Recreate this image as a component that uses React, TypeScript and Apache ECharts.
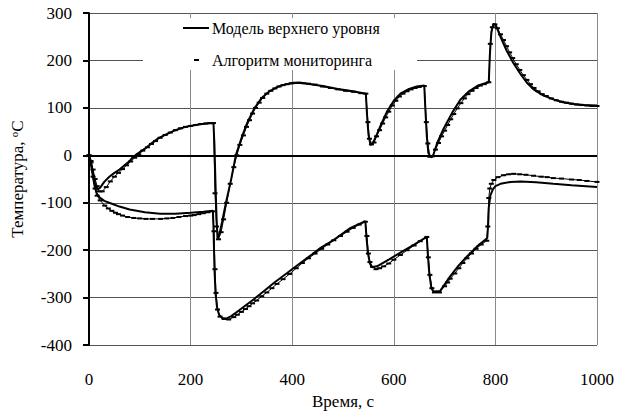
import React, { useEffect, useRef } from "react";
import * as echarts from "echarts";

const xTicks = [0, 200, 400, 600, 800, 1000];
const yTicks = [-400, -300, -200, -100, 0, 100, 200, 300];

const legendModel = "Модель верхнего уровня";
const legendAlgo = "Алгоритм мониторинга";
const xName = "Время, с";

// Model, upper branch [time s, temperature °C]
const modelUpper: number[][] = [
  [0, 0], [3, -10], [8, -40], [12, -60], [17, -72], [22, -68], [30, -56], [40, -45], [50, -37], [60, -30],
  [70, -21], [80, -12], [86, -4], [95, 3], [110, 14], [125, 27], [135, 35], [150, 43], [170, 53], [190, 60],
  [210, 64], [230, 67], [245, 68],
  [247, 20], [249, -60], [251, -130], [253, -175], [257, -165], [262, -140], [269, -103], [280, -50], [289, 0],
  [302, 42], [312, 70], [325, 98], [340, 121], [355, 135], [370, 144], [385, 149], [400, 152], [415, 153],
  [430, 151], [460, 146], [490, 140], [520, 135], [545, 130],
  [547, 90], [550, 45], [554, 22], [558, 24], [565, 40], [575, 65], [587, 93], [600, 115], [613, 130],
  [630, 140], [645, 145], [660, 147],
  [662, 100], [665, 40], [668, 5], [673, -4], [677, -2], [685, 25], [698, 56], [715, 90], [731, 117],
  [748, 135], [764, 146], [780, 152], [787, 154],
  [789, 210], [792, 260], [796, 277], [800, 276], [810, 250], [822, 221], [835, 195], [849, 172], [862, 153],
  [875, 139], [895, 126], [914, 118], [933, 112], [953, 108], [975, 106], [1000, 105],
];

// Model, lower branch
const modelLower: number[][] = [
  [0, 0], [3, -12], [7, -40], [11, -65], [15, -80], [20, -88], [30, -96], [45, -102], [60, -108], [80, -114],
  [110, -120], [140, -123], [170, -123], [200, -121], [225, -119], [244, -117],
  [245, -150], [247, -240], [249, -290], [252, -320], [256, -336], [262, -343], [270, -344], [280, -339],
  [295, -327], [310, -315], [325, -303], [341, -289], [365, -268], [390, -248], [416, -227], [440, -208],
  [456, -195], [482, -178], [515, -153], [544, -139],
  [546, -170], [549, -206], [553, -228], [557, -236], [567, -234], [590, -220], [613, -205], [640, -188],
  [665, -172],
  [667, -210], [670, -251], [674, -280], [678, -287], [691, -286], [711, -255], [727, -233], [744, -213],
  [763, -193], [780, -178], [784, -174],
  [786, -140], [787, -110], [790, -85], [795, -72], [800, -65], [810, -60], [830, -56], [850, -55],
  [880, -57], [914, -60], [950, -63], [1000, -67],
];

// Monitoring algorithm, upper branch
const algoUpper: number[][] = [
  [0, 0], [4, -12], [8, -30], [12, -50], [16, -65], [20, -76], [26, -76], [34, -67], [42, -55], [50, -45],
  [58, -37], [66, -29], [74, -21], [82, -13], [90, -5], [98, 2], [106, 10], [115, 17], [123, 24], [131, 30],
  [140, 37], [150, 43], [160, 48], [170, 53], [180, 57], [190, 60], [200, 62], [210, 64], [220, 66],
  [230, 67], [238, 68], [245, 68],
  [248, -80], [251, -150], [255, -177], [260, -162], [265, -135], [271, -100], [278, -60], [285, -25],
  [291, 0], [297, 22], [304, 42], [310, 60], [316, 74], [322, 88], [328, 100], [335, 111], [342, 121],
  [350, 130], [358, 136], [366, 141], [374, 145], [382, 148], [390, 150], [398, 152], [406, 153], [414, 153],
  [422, 152], [432, 151], [445, 149], [460, 145], [475, 142], [490, 139], [505, 136], [520, 134],
  [535, 131], [545, 130],
  [549, 70], [552, 35], [556, 23], [561, 27], [566, 40], [572, 53], [578, 67], [584, 80], [590, 92],
  [597, 105], [604, 115], [611, 124], [618, 130], [626, 135], [634, 139], [642, 142], [650, 144], [660, 146],
  [664, 70], [667, 25], [671, -3], [676, -2], [682, 12], [688, 26], [694, 40], [700, 52], [706, 64],
  [712, 76], [718, 87], [725, 99], [732, 110], [739, 120], [746, 129], [754, 136], [762, 142], [770, 147],
  [778, 150], [787, 154],
  [790, 235], [794, 270], [799, 276], [804, 268], [810, 255], [816, 243], [822, 230], [828, 217],
  [834, 205], [841, 192], [848, 180], [855, 169], [862, 159], [869, 150], [876, 142], [884, 135],
  [892, 129], [900, 125], [910, 120], [920, 116], [930, 113], [940, 111], [950, 109], [960, 107],
  [970, 106], [980, 105], [990, 104], [1000, 104],
];

// Monitoring algorithm, lower branch
const algoLower: number[][] = [
  [0, 0], [4, -15], [8, -45], [12, -70], [16, -85], [22, -95], [31, -106], [38, -112], [45, -117],
  [52, -121], [58, -124], [66, -127], [76, -130], [88, -132], [100, -133], [112, -134], [125, -134],
  [141, -134], [153, -133], [165, -132], [177, -130], [190, -128], [200, -127], [207, -126], [216, -124],
  [225, -122], [234, -120], [243, -118],
  [246, -160], [248, -240], [250, -290], [253, -325], [258, -340], [266, -345], [275, -346], [285, -341],
  [292, -336], [300, -330], [308, -324], [315, -318], [322, -312], [330, -306], [340, -297], [350, -289],
  [360, -280], [370, -271], [382, -261], [395, -250], [408, -238], [420, -227], [432, -217], [445, -207],
  [458, -197], [470, -188], [482, -179], [495, -170], [508, -161], [520, -153], [532, -146], [544, -140],
  [547, -170], [550, -207], [553, -225], [558, -235], [565, -240], [572, -238], [580, -234], [590, -228],
  [600, -220], [613, -210], [626, -200], [640, -190], [652, -181], [665, -172],
  [668, -215], [671, -252], [675, -280], [680, -289], [690, -289], [700, -276], [706, -268], [711, -260],
  [720, -249], [728, -238], [736, -227], [744, -217], [753, -207], [762, -197], [772, -188], [783, -180],
  [785, -150], [787, -90], [789, -70], [792, -60], [797, -52], [805, -46], [816, -42], [826, -40],
  [836, -39], [848, -40], [860, -41], [875, -43], [890, -45], [902, -46], [914, -48], [930, -49],
  [950, -51], [965, -52], [980, -54], [1000, -56],
];

const FONT = "Liberation Serif";

export default function App() {
  const ref = useRef<HTMLDivElement>(null);
  useEffect(() => {
    if (!ref.current) return;
    const chart = echarts.init(ref.current, null, { renderer: "svg" });
    const modelStyle = { color: "#000", width: 2 };
    const algoSeries = (data: number[][]) => ({
      type: "line",
      data,
      symbol: "rect",
      symbolSize: [5, 2],
      showSymbol: true,
      showAllSymbol: true,
      itemStyle: { color: "#000" },
      lineStyle: { color: "#000", width: 1 },
      z: 3,
    });
    const txt = (extra: object) => ({ fontFamily: FONT, color: "#000", ...extra });
    chart.setOption({
      animation: false,
      backgroundColor: "#fff",
      textStyle: { fontFamily: FONT },
      grid: { left: 88, right: 21, top: 13, bottom: 64 },
      xAxis: {
        type: "value",
        min: 0,
        max: 1000,
        interval: 200,
        name: xName,
        nameLocation: "middle",
        nameGap: 43,
        nameTextStyle: txt({ fontSize: 17 }),
        axisLine: { show: true, lineStyle: { color: "#808080", width: 1 } },
        axisTick: { show: false },
        axisLabel: {
          margin: 26,
          ...txt({ fontSize: 17 }),
          formatter: (v: number) => (xTicks.includes(v) ? String(v) : ""),
        },
        splitLine: { show: true, lineStyle: { color: "#8a8a8a", width: 1 } },
      },
      yAxis: {
        type: "value",
        min: -400,
        max: 300,
        interval: 100,
        name: "Температура, {s|o}C",
        nameLocation: "middle",
        nameGap: 62,
        nameRotate: 90,
        nameTextStyle: txt({
          fontSize: 17,
          rich: {
            s: txt({ fontSize: 11, verticalAlign: "top", padding: [0, 0, 8, 0] }),
          },
        }),
        axisLine: { show: true, onZero: false, lineStyle: { color: "#000", width: 2 } },
        axisTick: { show: true, inside: false, length: 6, lineStyle: { color: "#000", width: 2 } },
        axisLabel: {
          margin: 17,
          ...txt({ fontSize: 17 }),
          formatter: (v: number) => (yTicks.includes(v) ? String(v) : ""),
        },
        splitLine: { show: true, lineStyle: { color: "#555", width: 1 } },
      },
      series: [
        {
          type: "line",
          data: modelUpper,
          symbol: "none",
          lineStyle: modelStyle,
          z: 4,
          markLine: {
            silent: true,
            symbol: "none",
            label: { show: false },
            lineStyle: { color: "#000", width: 2, type: "solid" },
            data: [{ yAxis: 0 }],
          },
        },
        { type: "line", data: modelLower, symbol: "none", lineStyle: modelStyle, z: 4 },
        algoSeries(algoUpper),
        algoSeries(algoLower),
      ],
      graphic: [
        { type: "rect", shape: { x: 143, y: 18, width: 274, height: 52 }, style: { fill: "#fff" }, z: 10 },
        { type: "line", shape: { x1: 183, y1: 28, x2: 209, y2: 28 }, style: { stroke: "#000", lineWidth: 2 }, z: 11 },
        { type: "rect", shape: { x: 194, y: 59, width: 5, height: 2 }, style: { fill: "#000" }, z: 11 },
        {
          type: "text",
          x: 212,
          y: 28,
          style: { text: legendModel, fontFamily: FONT, fontSize: 16, fill: "#000", verticalAlign: "middle" },
          z: 11,
        },
        {
          type: "text",
          x: 212,
          y: 60,
          style: { text: legendAlgo, fontFamily: FONT, fontSize: 16, fill: "#000", verticalAlign: "middle" },
          z: 11,
        },
      ],
    });
    return () => chart.dispose();
  }, []);
  return <div ref={ref} style={{ position: "absolute", left: 0, top: 0, width: 618, height: 415 }} />;
}
